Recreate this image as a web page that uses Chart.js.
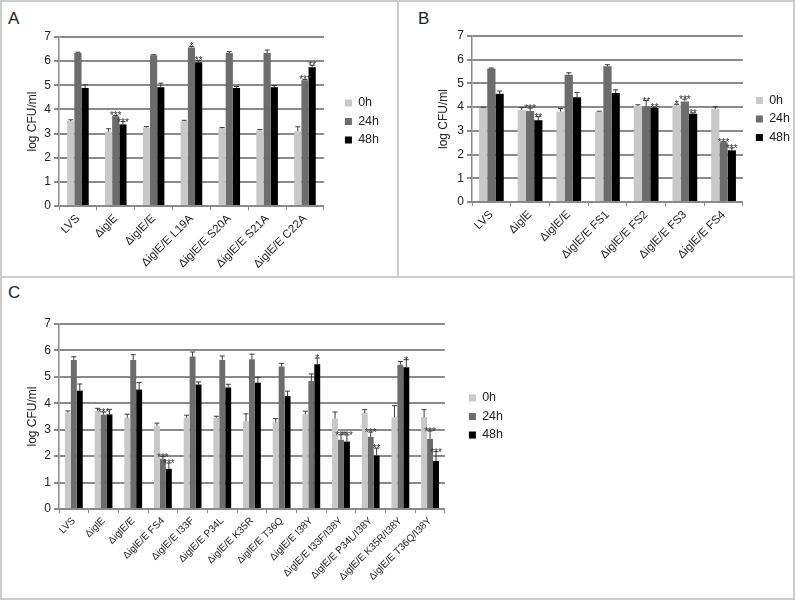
<!DOCTYPE html>
<html><head><meta charset="utf-8">
<script src="https://cdn.jsdelivr.net/npm/chart.js@4.4.0/dist/chart.umd.min.js"></script>
<style>
html,body{margin:0;padding:0;background:#fff;}
body{width:795px;height:601px;position:relative;overflow:hidden;font-family:'Liberation Sans',Arial,sans-serif;}
.frame{position:absolute;border:0 solid #cccccc;box-sizing:border-box;}
canvas{position:absolute;}
.lbl{position:absolute;font-size:17px;line-height:17px;color:#222;}
</style></head><body>
<div class="frame" style="left:0;top:0;width:795px;height:600px;border-width:2px;"></div>
<div class="frame" style="left:0;top:276px;width:795px;height:2px;border-top-width:2px;"></div>
<div class="frame" style="left:397px;top:0;width:2px;height:277px;border-left-width:2px;"></div>
<div class="lbl" style="left:8px;top:10px;">A</div>
<div class="lbl" style="left:418px;top:10px;">B</div>
<div class="lbl" style="left:8px;top:284px;">C</div>
<canvas id="cA" width="397" height="277" style="left:0;top:0;"></canvas>
<canvas id="cB" width="396" height="277" style="left:399px;top:0;"></canvas>
<canvas id="cC" width="795" height="323" style="left:0;top:277px;"></canvas>
<script>
// ---------- data ----------
const seriesNames = ['0h', '24h', '48h'];
const yTickMin = 0, yTickMax = 7, yTickStep = 1;

// Panel A
const catsA = ['LVS', 'ΔiglE', 'ΔiglE/E', 'ΔiglE/E L19A', 'ΔiglE/E S20A', 'ΔiglE/E S21A', 'ΔiglE/E C22A'];
const a0h  = [3.52, 3.08, 3.25, 3.52, 3.22, 3.13, 3.10];
const a24h = [6.34, 3.72, 6.24, 6.56, 6.34, 6.34, 5.21];
const a48h = [4.89, 3.38, 4.92, 5.95, 4.89, 4.92, 5.75];
const aErr0h  = [0.05, 0.12, 0.04, 0.03, 0.03, 0.04, 0.18];
const aErr24h = [0.03, 0.03, 0.03, 0.05, 0.06, 0.12, 0.03];
const aErr48h = [0.13, 0.12, 0.17, 0.08, 0.06, 0.07, 0.08];
const aStar0h  = ['', '', '', '', '', '', ''];
const aStar24h = ['', '***', '', '*', '', '', '***'];
const aStar48h = ['', '***', '', '**', '', '', '**'];

// Panel B
const catsB = ['LVS', 'ΔiglE', 'ΔiglE/E', 'ΔiglE/E FS1', 'ΔiglE/E FS2', 'ΔiglE/E FS3', 'ΔiglE/E FS4'];
const b0h  = [3.97, 3.88, 3.82, 3.81, 4.05, 4.07, 3.93];
const b24h = [5.63, 3.84, 5.37, 5.72, 4.03, 4.24, 2.52];
const b48h = [4.56, 3.45, 4.42, 4.60, 3.96, 3.72, 2.18];
const bErr0h  = [0.03, 0.10, 0.12, 0.02, 0.05, 0.05, 0.08];
const bErr24h = [0.02, 0.12, 0.08, 0.07, 0.25, 0.10, 0.02];
const bErr48h = [0.12, 0.15, 0.20, 0.13, 0.03, 0.04, 0.10];
const bStar0h  = ['', '', '', '', '', '*', ''];
const bStar24h = ['', '***', '', '', '**', '***', '***'];
const bStar48h = ['', '**', '', '', '**', '**', '***'];

// Panel C
const catsC = ['LVS', 'ΔiglE', 'ΔiglE/E', 'ΔiglE/E FS4', 'ΔiglE/E I33F', 'ΔiglE/E P34L', 'ΔiglE/E K35R',
               'ΔiglE/E T36Q', 'ΔiglE/E I38Y', 'ΔiglE/E I33F/I38Y', 'ΔiglE/E P34L/I38Y', 'ΔiglE/E K35R/I38Y', 'ΔiglE/E T36Q/I38Y'];
const c0h  = [3.65, 3.71, 3.45, 3.13, 3.45, 3.45, 3.32, 3.28, 3.59, 3.42, 3.63, 3.47, 3.48];
const c24h = [5.64, 3.57, 5.64, 1.90, 5.77, 5.64, 5.67, 5.39, 4.84, 2.62, 2.73, 5.46, 2.65];
const c48h = [4.48, 3.58, 4.52, 1.52, 4.71, 4.60, 4.78, 4.27, 5.48, 2.55, 2.02, 5.36, 1.82];
const cErr0h  = [0.06, 0.10, 0.14, 0.12, 0.10, 0.06, 0.28, 0.14, 0.11, 0.25, 0.13, 0.44, 0.28];
const cErr24h = [0.12, 0.10, 0.20, 0.08, 0.17, 0.15, 0.19, 0.12, 0.27, 0.19, 0.18, 0.12, 0.30];
const cErr48h = [0.25, 0.19, 0.27, 0.22, 0.10, 0.12, 0.20, 0.19, 0.23, 0.25, 0.28, 0.29, 0.35];
const cStar0h  = ['', '', '', '', '', '', '', '', '', '', '', '', ''];
const cStar24h = ['', '***', '', '***', '', '', '', '', '', '***', '***', '', '***'];
const cStar48h = ['', '', '', '***', '', '', '', '', '*', '***', '**', '*', '***'];

// ---------- styles ----------
const barColors = ['#c8c8c8', '#6c6c6c', '#000000'];
const gridColor = '#8a8a8a';
const textColor = '#222222';
Chart.defaults.font.family = "'Liberation Sans', Arial, sans-serif";
Chart.defaults.color = textColor;

const errStarPlugin = {
  id: 'errStar',
  afterDatasetsDraw(chart) {
    const ctx = chart.ctx;
    const ys = chart.scales.y;
    chart.data.datasets.forEach((ds, i) => {
      const meta = chart.getDatasetMeta(i);
      meta.data.forEach((bar, j) => {
        const v = ds.data[j];
        const e = ds.err[j];
        const x = bar.x;
        const yBar = ys.getPixelForValue(v);
        const yTop = ys.getPixelForValue(v + e);
        ctx.save();
        ctx.strokeStyle = '#3a3a3a';
        ctx.lineWidth = 1;
        ctx.beginPath();
        ctx.moveTo(x, yBar);
        ctx.lineTo(x, yTop);
        ctx.moveTo(x - 2.5, yTop);
        ctx.lineTo(x + 2.5, yTop);
        ctx.stroke();
        const s = ds.stars[j];
        if (s) {
          ctx.fillStyle = '#333';
          ctx.font = "10px 'Liberation Sans', Arial, sans-serif";
          ctx.textAlign = 'center';
          ctx.textBaseline = 'alphabetic';
          ctx.fillText(s, x, yTop + 4);
        }
        ctx.restore();
      });
    });
  }
};

const legendShift = {
  id: 'legendShift',
  afterLayout(chart, args, opts) {
    const lg = chart.legend;
    if (lg && opts.dx) { lg.left += opts.dx; lg.right += opts.dx; }
  }
};

function makeChart(id, cats, vals, errs, stars, L) {
  return new Chart(document.getElementById(id), {
    type: 'bar',
    data: {
      labels: cats,
      datasets: vals.map((v, i) => ({
        label: seriesNames[i], data: v, err: errs[i], stars: stars[i],
        backgroundColor: barColors[i], borderWidth: 0,
        categoryPercentage: L.cat, barPercentage: 1.0
      }))
    },
    options: {
      responsive: false, animation: false,
      layout: { padding: { left: L.pl, top: L.pt, right: L.pr, bottom: 0 } },
      plugins: {
        legend: {
          position: 'right', align: 'center', fullSize: false,
          labels: { boxWidth: 7, boxHeight: 7, padding: 6, color: textColor, font: { size: 12.5 } }
        },
        tooltip: { enabled: false },
        legendShift: { dx: L.dx }
      },
      scales: {
        x: {
          grid: { offset: true, drawOnChartArea: false, tickLength: 4, color: gridColor, lineWidth: 1 },
          border: { color: gridColor, width: 2 },
          ticks: { minRotation: 45, maxRotation: 45, autoSkip: false, font: { size: L.xfs }, color: textColor, padding: 2 },
          afterFit: (s) => { s.height = L.xh; }
        },
        y: {
          min: yTickMin, max: yTickMax,
          ticks: { stepSize: yTickStep, font: { size: 12 }, color: textColor, padding: 3 },
          grid: { color: gridColor, lineWidth: 2, tickLength: 5 },
          border: { color: gridColor, width: 1.5 },
          title: { display: true, text: 'log CFU/ml', font: { size: 12 }, color: textColor, padding: { top: 4, bottom: 4 } },
          afterFit: (s) => { s.width = L.yw; }
        }
      }
    },
    plugins: [errStarPlugin, legendShift]
  });
}

makeChart('cA', catsA, [a0h, a24h, a48h], [aErr0h, aErr24h, aErr48h], [aStar0h, aStar24h, aStar48h],
  { pl: 21, pt: 37, pr: 23, yw: 38, xh: 71, cat: 0.57, xfs: 11.5, dx: 15 });
makeChart('cB', catsB, [b0h, b24h, b48h], [bErr0h, bErr24h, bErr48h], [bStar0h, bStar24h, bStar48h],
  { pl: 33, pt: 36, pr: 2, yw: 40, xh: 75, cat: 0.64, xfs: 11.5, dx: 7 });
makeChart('cC', catsC, [c0h, c24h, c48h], [cErr0h, cErr24h, cErr48h], [cStar0h, cStar24h, cStar48h],
  { pl: 21, pt: 47, pr: 300, yw: 38, xh: 91, cat: 0.60, xfs: 10, dx: 18 });
</script>
</body></html>
